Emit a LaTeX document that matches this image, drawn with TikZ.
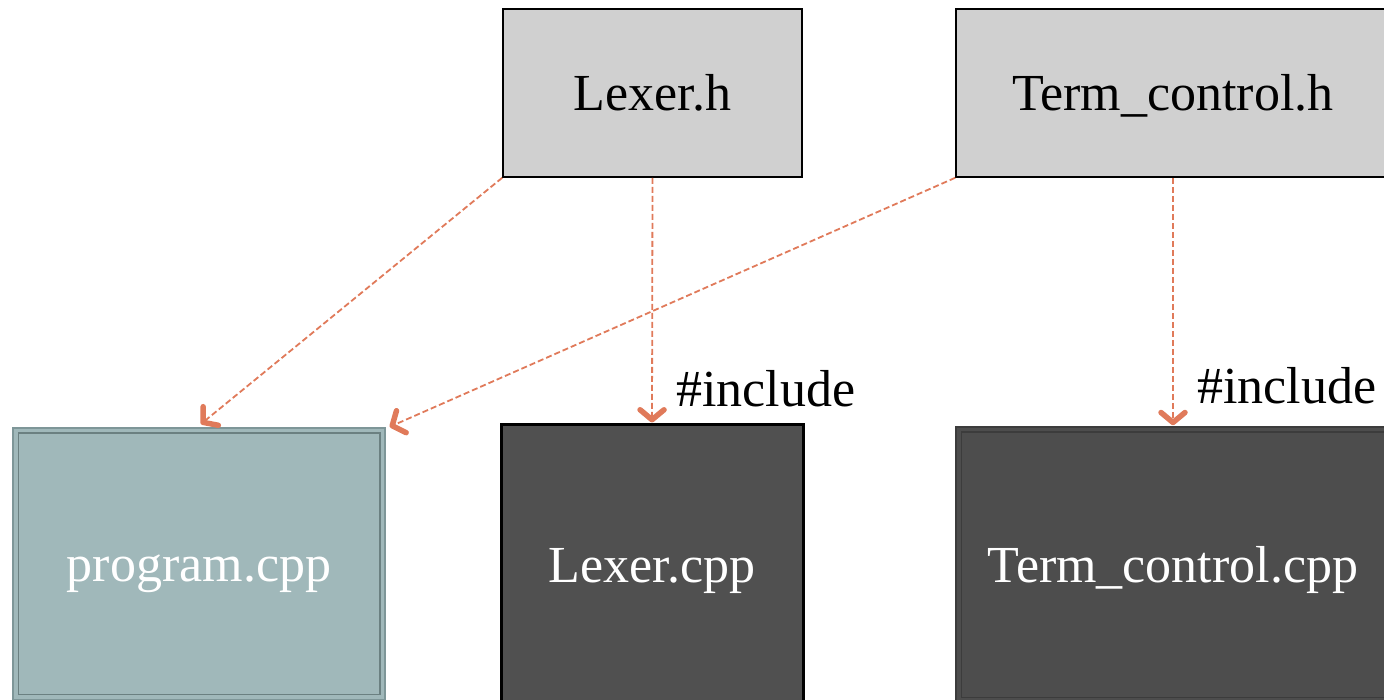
\documentclass[tikz,border=0pt]{standalone}
\usepackage{fontspec}
\setmainfont{Liberation Serif}
\usetikzlibrary{arrows.meta}
\definecolor{hdrfill}{HTML}{D0D0D0}
\definecolor{progfill}{HTML}{A0B8BA}
\definecolor{progline}{HTML}{7E9698}
\definecolor{lexfill}{HTML}{505050}
\definecolor{termfill}{HTML}{4D4D4D}
\definecolor{termline}{HTML}{3C3C3C}
\definecolor{arrowc}{HTML}{E07A5A}
\tikzset{
  filebox/.style={rectangle, inner sep=0pt, text height=36pt, text depth=0pt,
    font=\fontsize{52}{60}\selectfont},
  hdr/.style={filebox, draw=black, line width=1.6pt, fill=hdrfill, text=black},
  prog/.style={filebox, draw=progline, line width=1.5pt, fill=progfill, text=white},
  lexc/.style={filebox, draw=black, line width=3pt, fill=lexfill, text=white},
  termc/.style={filebox, draw=termline, line width=1.5pt, fill=termfill, text=white},
  inner/.style={line width=1.5pt},
  inc/.style={-{Straight Barb[length=10pt, width=24pt, line width'=5.5pt, round]},
    draw=arrowc, line width=1.8pt, dash pattern=on 6pt off 3pt},
  lbl/.style={anchor=base west, inner sep=0pt, font=\fontsize{52}{60}\selectfont}
}
\begin{document}
\begin{tikzpicture}[x=1pt, y=1pt]
\useasboundingbox (0,0) rectangle (1384,700);
% header boxes
\node[hdr, minimum width=299pt, minimum height=168pt] (lexh) at (652.5,607) {Lexer.h};
\node[hdr, minimum width=434pt, minimum height=168pt] (termh) at (1173,607) {Term\_control.h};
% source boxes
\node[prog, minimum width=372pt, minimum height=272pt] (prog) at (199,136) {program.cpp};
\draw[inner, progline!85!black] ([shift={(6pt,-6pt)}]prog.north west) rectangle ([shift={(-6pt,6pt)}]prog.south east);
\node[lexc, minimum width=302pt, minimum height=280pt] (lexc) at (652,135) {Lexer.cpp};
\node[termc, minimum width=434pt, minimum height=276pt] (termc) at (1173,135) {Term\_control.cpp};
\draw[inner, termline] ([shift={(6pt,-6pt)}]termc.north west) rectangle ([shift={(-6pt,6pt)}]termc.south east);
% connectors
\draw[inc, shorten >=5pt] (lexh.south west) -- ([xshift=-2pt]prog.north);
\draw[inc, shorten >=1pt] (lexh.south) -- (lexc.north);
\draw[inc, shorten >=1pt] (termh.south west) -- ([xshift=3pt]prog.north east);
\draw[inc, shorten >=1pt] (termh.south) -- (termc.north);
% labels
\node[lbl] (inc1) at (676,293) {\#include};
\node[lbl] (inc2) at (1197,296) {\#include};
\end{tikzpicture}
\end{document}
